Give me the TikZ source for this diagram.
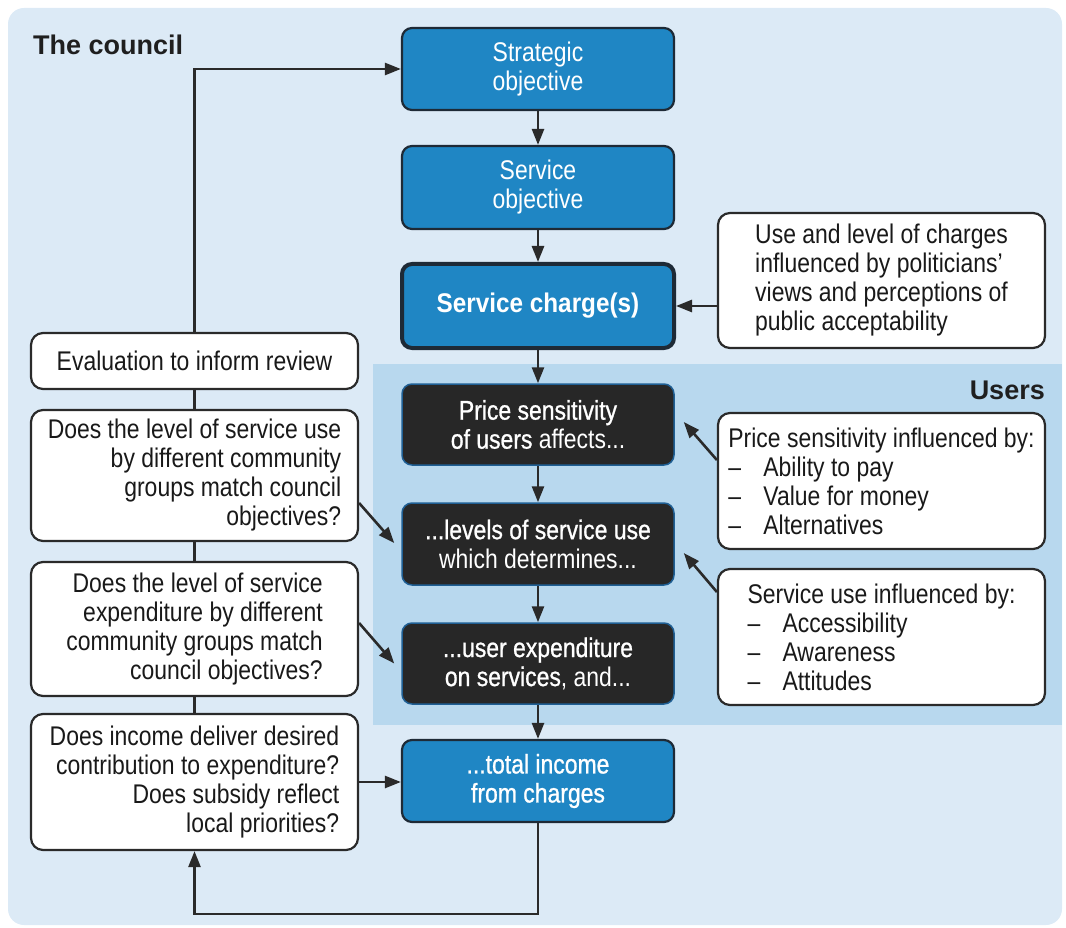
\documentclass[tikz,border=0pt]{standalone}
\usepackage{fontspec}
\setmainfont{Liberation Sans}[FakeStretch=0.85]
\newfontfamily\widefont{Liberation Sans}
\newfontfamily\medfont{Liberation Sans}[FakeStretch=0.85,FakeBold=0.9]
\newfontfamily\boldcond{Liberation Sans Bold}[FakeStretch=0.9]
\usetikzlibrary{arrows.meta}
\definecolor{bgout}{HTML}{DCEAF6}
\definecolor{bgusers}{HTML}{B8D8EE}
\definecolor{boxblue}{HTML}{1F86C4}
\definecolor{boxdark}{HTML}{272727}
\definecolor{edge}{HTML}{1E2A36}
\definecolor{darkedge}{HTML}{1F5F94}
\definecolor{wire}{HTML}{2A2A2A}
\begin{document}
\begin{tikzpicture}[x=1pt,y=-1pt,
  every node/.style={font=\fontsize{27}{29}\selectfont, inner sep=0pt},
  mainbox/.style={rounded corners=10pt, align=center, minimum width=272pt},
  bluebox/.style={mainbox, draw=edge, line width=2.2pt, fill=boxblue, text=white},
  darkbox/.style={mainbox, draw=darkedge, line width=1.5pt, fill=boxdark, text=white},
  notebox/.style={draw=wire, line width=2.2pt, fill=white, rounded corners=12pt, minimum width=327pt, text=black!90},
  arr/.style={draw=wire, line width=2.6pt, -{Triangle[length=16pt,width=12pt]}},
  wireline/.style={draw=wire, line width=2.6pt}
]
\useasboundingbox (0,0) rectangle (1066,928);
% backgrounds
\fill[bgout, rounded corners=16pt] (8,8) rectangle (1062,925);
\fill[bgusers] (373,364) rectangle (1062,725);

% labels
\node[anchor=base west, font=\widefont\bfseries\fontsize{27}{30}\selectfont, text=black!88] (council) at (33,55) {The council};
\node[anchor=base east, font=\widefont\bfseries\fontsize{27}{30}\selectfont, text=black!88] (users) at (1045,399) {Users};

% main column
\node[bluebox, minimum height=82pt] (S1) at (538,69) {Strategic\\objective};
\node[bluebox, minimum height=83pt] (S2) at (538,187.5) {Service\\objective};
\node[bluebox, minimum height=84pt, line width=4pt, font=\boldcond\fontsize{27}{29}\selectfont] (S3) at (538,306) {Service charge(s)};
\node[darkbox, minimum height=81pt] (U1) at (538,424.5) {{\medfont Price sensitivity}\\{\medfont of users} affects...};
\node[darkbox, minimum height=82pt] (U2) at (538,544) {{\medfont ...levels of service use}\\which determines...};
\node[darkbox, minimum height=81pt] (U3) at (538,663.5) {{\medfont ...user expenditure}\\{\medfont on services}, and...};
\node[bluebox, minimum height=82pt, font=\medfont\fontsize{27}{29}\selectfont] (T) at (538,781) {...total income\\from charges};

% left column
\node[notebox, minimum height=56pt, align=center] (E) at (194.5,361) {Evaluation to inform review};
\node[notebox, minimum height=131pt, align=right] (Q1) at (194.5,475.5) {Does the level of service use\\by different community\\groups match council\\objectives?};
\node[notebox, minimum height=134pt, align=right] (Q2) at (194.5,629) {Does the level of service\\expenditure by different\\community groups match\\council objectives?};
\node[notebox, minimum height=136pt, align=right] (Q3) at (194.5,782) {Does income deliver desired\\contribution to expenditure?\\Does subsidy reflect\\local priorities?};

% right column
\node[notebox, minimum height=135pt, align=left] (R0) at (881.5,280.5) {Use and level of charges\\influenced by politicians'\\views and perceptions of\\public acceptability};
\node[notebox, minimum height=136pt, align=left] (R1) at (881.5,481) {Price sensitivity influenced by:\\\makebox[35pt][l]{--}Ability to pay\\\makebox[35pt][l]{--}Value for money\\\makebox[35pt][l]{--}Alternatives};
\node[notebox, minimum height=136pt, align=left] (R2) at (881.5,637) {Service use influenced by:\\\makebox[35pt][l]{--}Accessibility\\\makebox[35pt][l]{--}Awareness\\\makebox[35pt][l]{--}Attitudes};

% main flow
\draw[arr] (S1.south) -- (S2.north);
\draw[arr] (S2.south) -- (S3.north);
\draw[arr] (S3.south) -- (U1.north);
\draw[arr] (U1.south) -- (U2.north);
\draw[arr] (U2.south) -- (U3.north);
\draw[arr] (U3.south) -- (T.north);

% left chain
\draw[wireline] (E.south) -- (Q1.north);
\draw[wireline] (Q1.south) -- (Q2.north);
\draw[wireline] (Q2.south) -- (Q3.north);
\draw[arr] (E.north) |- (S1.west);
\draw[arr] (T.south) -- ++(0,91) -| (Q3.south);
\draw[arr] (Q3.east) -- (Q3.east -| T.west);
\draw[arr] ([yshift=-27.5pt]Q1.east) -- ([xshift=-7pt,yshift=1pt]U2.west);
\draw[arr] ([yshift=6pt]Q2.east) -- ([xshift=-7pt]U3.west);

% right side
\draw[arr] (S3.east -| R0.west) -- (S3.east);
\draw[arr] ([yshift=21pt]R1.west) -- ([xshift=9pt,yshift=2.5pt]U1.east);
\draw[arr] ([yshift=45pt]R2.west) -- ([xshift=9pt,yshift=-9pt]U2.east);
\end{tikzpicture}
\end{document}
